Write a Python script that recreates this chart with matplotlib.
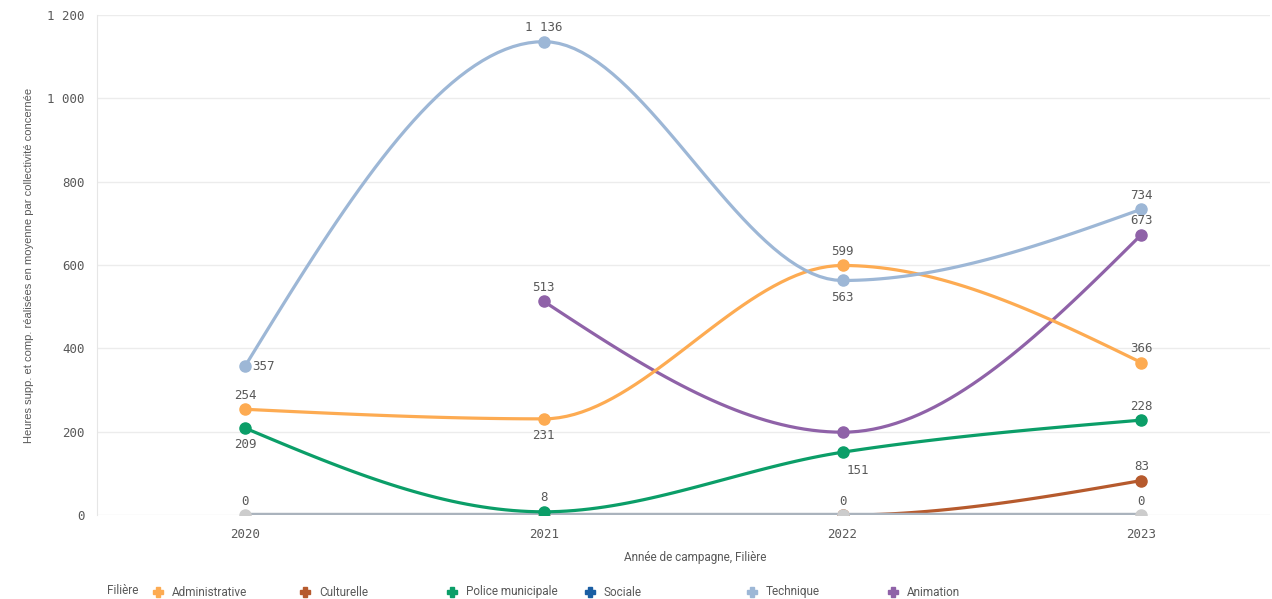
import numpy as np
import matplotlib
matplotlib.use("Agg")
import matplotlib.pyplot as plt
from matplotlib.lines import Line2D

years = [2020, 2021, 2022, 2023]
filieres = ["Administrative", "Culturelle", "Police municipale", "Sociale", "Technique", "Animation"]
administrative = [254, 231, 599, 366]
culturelle = [np.nan, 0, 0, 83]
police = [209, 8, 151, 228]
sociale = [0, 0, 0, 0]
technique = [357, 1136, 563, 734]
animation = [np.nan, 513, 199, 673]

colors = {
    "Administrative": "#fdab52",
    "Culturelle": "#b65a2d",
    "Police municipale": "#0b9e68",
    "Sociale": "#1a5ea3",
    "Technique": "#9db7d6",
    "Animation": "#8f62a8",
}
zero_line = "#aab3bd"
zero_dot = "#cccccc"

# where each value label sits relative to its point: (dx pt, dy pt, ha)
label_pos = {
    "Administrative": [(0, 10, "center"), (0, -12, "center"), (0, 10, "center"), (0, 10, "center")],
    "Culturelle": [None, None, None, (0, 10, "center")],
    "Police municipale": [(0, -12, "center"), (0, 10, "center"), (11, -13, "center"), (0, 10, "center")],
    "Sociale": [(0, 10, "center"), None, (0, 10, "center"), (0, 10, "center")],
    "Technique": [(5, 0, "left"), (0, 10, "center"), (0, -12, "center"), (0, 10, "center")],
    "Animation": [None, (0, 10, "center"), None, (0, 10, "center")],
}


def monotone(xs, ys, n=40):
    # monotone cubic (same rule as d3 curveMonotoneX) through finite points
    xs = np.asarray(xs, float)
    ys = np.asarray(ys, float)
    ok = ~np.isnan(ys)
    xs, ys = xs[ok], ys[ok]
    if len(xs) < 3:
        return xs, ys
    h = np.diff(xs)
    s = np.diff(ys) / h
    m = np.zeros(len(xs))
    for i in range(1, len(xs) - 1):
        h0, h1, s0, s1 = h[i - 1], h[i], s[i - 1], s[i]
        p = (s0 * h1 + s1 * h0) / (h0 + h1)
        m[i] = (np.sign(s0) + np.sign(s1)) * min(abs(s0), abs(s1), 0.5 * abs(p))
    m[0] = (3 * s[0] - m[1]) / 2
    m[-1] = (3 * s[-1] - m[-2]) / 2
    out_x, out_y = [], []
    t = np.linspace(0, 1, n)
    for i in range(len(xs) - 1):
        dx = h[i]
        h00 = 2 * t ** 3 - 3 * t ** 2 + 1
        h10 = t ** 3 - 2 * t ** 2 + t
        h01 = -2 * t ** 3 + 3 * t ** 2
        h11 = t ** 3 - t ** 2
        out_y.append(h00 * ys[i] + h10 * dx * m[i] + h01 * ys[i + 1] + h11 * dx * m[i + 1])
        out_x.append(xs[i] + dx * t)
    return np.concatenate(out_x), np.concatenate(out_y)


def fmt(v):
    return f"{int(v):,}".replace(",", "\u2009")


series = {
    "Administrative": administrative,
    "Culturelle": culturelle,
    "Police municipale": police,
    "Sociale": sociale,
    "Technique": technique,
    "Animation": animation,
}

fig = plt.figure(figsize=(12.72, 5.99), dpi=100)
ax = fig.add_axes([0.0763, 0.140, 0.922, 0.835])
mono = "DejaVu Sans Mono"
text_grey = "#595959"

ax.set_xlim(2019.505, 2023.43)
ax.set_ylim(0, 1200)
yt = [0, 200, 400, 600, 800, 1000, 1200]
ax.set_yticks(yt)
ax.set_yticklabels([fmt(v) for v in yt], fontfamily=mono, fontsize=9, color=text_grey)
ax.set_xticks(years)
ax.set_xticklabels([str(y) for y in years], fontfamily=mono, fontsize=9, color=text_grey)
ax.tick_params(length=0, pad=9)
ax.grid(axis="y", color="#ececec", linewidth=1)
for s in ["top", "right", "bottom"]:
    ax.spines[s].set_visible(False)
ax.spines["left"].set_color("#e6e6e6")
ax.set_axisbelow(True)

order = ["Culturelle", "Sociale", "Police municipale", "Animation", "Administrative", "Technique"]
for name in order:
    vals = series[name]
    line_c = colors[name]
    dot_c = colors[name]
    lw = 2.3
    if name == "Sociale":
        line_c = zero_line
        dot_c = zero_dot
        lw = 3.2
    sx, sy = monotone(years, vals)
    ax.plot(sx, sy, color=line_c, linewidth=lw, solid_capstyle="round", zorder=3)
    for x, v in zip(years, vals):
        if np.isnan(v):
            continue
        ax.plot(x, v, "o", color=dot_c, markersize=8, zorder=3)

for name in filieres:
    vals = series[name]
    for x, v, pos in zip(years, vals, label_pos[name]):
        if pos is None or np.isnan(v):
            continue
        dx, dy, ha = pos
        ax.annotate(fmt(v), (x, v), xytext=(dx, dy), textcoords="offset points",
                    ha=ha, va="center", fontfamily=mono, fontsize=9, color=text_grey, zorder=5)

ax.set_ylabel("Heures supp. et comp. réalisées en moyenne par collectivité concernée",
              fontsize=8, color=text_grey, fontfamily="Liberation Sans")
ax.yaxis.set_label_coords(-0.054, 0.5)
fig.text(0.5465, 0.070, "Année de campagne, Filière", ha="center", va="center",
         fontsize=8.5, color=text_grey, fontfamily="Roboto")

# legend along the bottom
fig.text(107 / 1272, 1 - 591 / 599, "Filière", ha="left", va="center",
         fontsize=8.5, color=text_grey, fontfamily="Roboto")
legend_x = [158, 305, 452, 590, 752, 893]
for name, px in zip(filieres, legend_x):
    fx = px / 1272
    fy = 1 - 592 / 599
    fig.add_artist(Line2D([fx], [fy], marker="P", markersize=6.5, color=colors[name],
                          linestyle="none", transform=fig.transFigure))
    fig.text(fx + 14 / 1272, fy, name, ha="left", va="center",
             fontsize=8.5, color=text_grey, fontfamily="Roboto")

fig.savefig("out.png", dpi=100, facecolor="white")
